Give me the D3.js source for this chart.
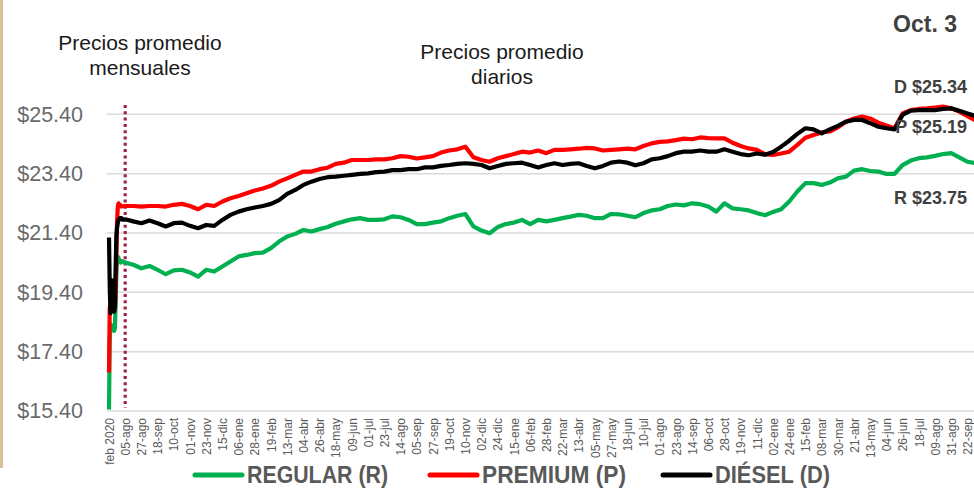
<!DOCTYPE html>
<html>
<head>
<meta charset="utf-8">
<script src="https://d3js.org/d3.v7.min.js"></script>
<style>
  body { margin: 0; background: #fff; }
  svg { display: block; }
</style>
</head>
<body>
<div id="chart"></div>
<script>
// monthly averages, feb 2020 - jul 2021
const monthKeys = ["2020-02","2020-03","2020-04","2020-05","2020-06","2020-07","2020-08","2020-09","2020-10",
  "2020-11","2020-12","2021-01","2021-02","2021-03","2021-04","2021-05","2021-06","2021-07"];
const regularMonthly = [15.45, 17.8, 18.3, 18.3, 18.2, 18.2, 18.15, 18.1, 18.2, 19.0, 20.1, 20.55, 20.6, 20.55, 20.5, 20.45, 20.4, 20.45];
const premiumMonthly = [16.7, 18.9, 18.9, 18.85, 18.8, 18.85, 18.8, 18.8, 18.85, 19.3, 20.6, 21.8, 22.3, 22.4, 22.35, 22.35, 22.3, 22.3];
const dieselMonthly  = [21.25, 19.6, 18.7, 19.3, 19.8, 19.3, 18.8, 18.75, 18.9, 20.2, 21.3, 21.6, 21.75, 21.85, 21.85, 21.9, 21.9, 21.9];

// daily averages
const dayKeys = ["2021-08-01","2021-08-05","2021-08-16","2021-08-27","2021-09-07","2021-09-18","2021-09-29","2021-10-10","2021-10-21",
  "2021-11-01","2021-11-12","2021-11-23","2021-12-04","2021-12-15","2021-12-26","2022-01-06","2022-01-17","2022-01-28",
  "2022-02-08","2022-02-19","2022-03-02","2022-03-13","2022-03-24","2022-04-04","2022-04-15","2022-04-26","2022-05-07",
  "2022-05-18","2022-05-29","2022-06-09","2022-06-20","2022-07-01","2022-07-12","2022-07-23","2022-08-03","2022-08-14",
  "2022-08-25","2022-09-05","2022-09-16","2022-09-27","2022-10-08","2022-10-19","2022-10-30","2022-11-10","2022-11-21",
  "2022-12-02","2022-12-13","2022-12-24","2023-01-04","2023-01-15","2023-01-26","2023-02-06","2023-02-17","2023-02-28",
  "2023-03-11","2023-03-22","2023-04-02","2023-04-13","2023-04-24","2023-05-05","2023-05-16","2023-05-27","2023-06-07",
  "2023-06-18","2023-06-29","2023-07-10","2023-07-21","2023-08-01","2023-08-12","2023-08-23","2023-09-03","2023-09-14",
  "2023-09-25","2023-10-06","2023-10-17","2023-10-28","2023-11-08","2023-11-19","2023-11-30","2023-12-11","2023-12-22",
  "2024-01-02","2024-01-13","2024-01-24","2024-02-04","2024-02-15","2024-02-26","2024-03-08","2024-03-19","2024-03-30",
  "2024-04-10","2024-04-21","2024-05-02","2024-05-13","2024-05-24","2024-06-04","2024-06-15","2024-06-26","2024-07-07",
  "2024-07-18","2024-07-29","2024-08-09","2024-08-20","2024-08-31","2024-09-11","2024-09-22","2024-10-03"];
const regularDaily = [20.45,
  20.40, 20.33, 20.21, 20.29, 20.16, 20.01, 20.14, 20.16, 20.07, 19.93, 20.16, 20.10, 20.27, 20.44, 20.61, 20.66,
  20.72, 20.74, 20.89, 21.11, 21.28, 21.37, 21.50, 21.45, 21.53, 21.60, 21.71, 21.79, 21.86, 21.90, 21.84, 21.84,
  21.86, 21.96, 21.93, 21.84, 21.70, 21.70, 21.75, 21.79, 21.90, 21.98, 22.04, 21.62, 21.48, 21.39, 21.60, 21.70,
  21.75, 21.84, 21.70, 21.84, 21.79, 21.84, 21.90, 21.95, 22.01, 21.98, 21.90, 21.90, 22.04, 22.03, 21.98, 21.93,
  22.07, 22.16, 22.20, 22.31, 22.36, 22.33, 22.40, 22.37, 22.29, 22.12, 22.40, 22.23, 22.20, 22.16, 22.07, 22.00,
  22.11, 22.20, 22.46, 22.80, 23.08, 23.08, 23.02, 23.10, 23.24, 23.30, 23.50, 23.55, 23.49, 23.47, 23.39, 23.39,
  23.69, 23.84, 23.92, 23.95, 24.00, 24.06, 24.09, 23.95, 23.80, 23.75];
const premiumDaily = [22.30,
  22.31, 22.31, 22.29, 22.31, 22.31, 22.29, 22.35, 22.38, 22.31, 22.20, 22.35, 22.31, 22.46, 22.57, 22.65, 22.74,
  22.83, 22.90, 22.99, 23.13, 23.24, 23.36, 23.47, 23.47, 23.55, 23.60, 23.73, 23.77, 23.86, 23.86, 23.86, 23.88,
  23.88, 23.92, 23.99, 23.97, 23.91, 23.95, 23.99, 24.11, 24.18, 24.22, 24.31, 23.95, 23.86, 23.80, 23.92, 23.99,
  24.06, 24.14, 24.11, 24.18, 24.09, 24.20, 24.20, 24.22, 24.24, 24.27, 24.25, 24.18, 24.20, 24.22, 24.24, 24.22,
  24.33, 24.42, 24.47, 24.49, 24.53, 24.58, 24.56, 24.62, 24.60, 24.59, 24.59, 24.44, 24.33, 24.25, 24.20, 24.06,
  24.03, 24.08, 24.14, 24.37, 24.61, 24.70, 24.79, 24.82, 24.96, 25.15, 25.26, 25.32, 25.26, 25.12, 25.02, 24.93,
  25.43, 25.54, 25.58, 25.60, 25.63, 25.66, 25.60, 25.49, 25.34, 25.19];
const dieselDaily = [21.85,
  21.86, 21.79, 21.73, 21.82, 21.73, 21.62, 21.73, 21.75, 21.64, 21.56, 21.67, 21.64, 21.84, 22.01, 22.12, 22.20,
  22.26, 22.31, 22.38, 22.51, 22.72, 22.85, 23.02, 23.13, 23.22, 23.28, 23.30, 23.33, 23.36, 23.39, 23.41, 23.45,
  23.47, 23.52, 23.52, 23.55, 23.55, 23.61, 23.61, 23.66, 23.69, 23.73, 23.75, 23.73, 23.69, 23.58, 23.66, 23.73,
  23.75, 23.77, 23.69, 23.61, 23.69, 23.75, 23.69, 23.73, 23.75, 23.66, 23.58, 23.66, 23.77, 23.81, 23.77, 23.68,
  23.75, 23.88, 23.92, 23.99, 24.09, 24.14, 24.14, 24.18, 24.14, 24.14, 24.22, 24.14, 24.06, 24.02, 24.08, 24.04,
  24.13, 24.31, 24.51, 24.74, 24.93, 24.89, 24.76, 24.89, 25.01, 25.15, 25.21, 25.21, 25.10, 24.98, 24.93, 24.89,
  25.38, 25.52, 25.54, 25.54, 25.54, 25.58, 25.60, 25.52, 25.43, 25.34];

const tickLabels = ["feb 2020","05-ago","27-ago","18-sep","10-oct","01-nov","23-nov","15-dic","06-ene","28-ene","19-feb",
  "13-mar","04-abr","26-abr","18-may","09-jun","01-jul","23-jul","14-ago","05-sep","27-sep","19-oct","10-nov","02-dic",
  "24-dic","15-ene","06-feb","28-feb","22-mar","13-abr","05-may","27-may","18-jun","10-jul","01-ago","23-ago","14-sep",
  "06-oct","28-oct","19-nov","11-dic","02-ene","24-ene","15-feb","08-mar","30-mar","21-abr","13-may","04-jun","26-jun",
  "18-jul","09-ago","31-ago","22-sep"];
const yTicks = [15.4, 17.4, 19.4, 21.4, 23.4, 25.4];

const seriesNames = ["REGULAR (R)", "PREMIUM (P)", "DIÉSEL (D)"];
const seriesLetters = ["R", "P", "D"];
const seriesColors = ["#00b050", "#ff0000", "#000000"];
const lastValues = [23.75, 25.19, 25.34];

const W = 974, H = 491;
const svg = d3.select("#chart").append("svg").attr("width", W).attr("height", H);

// one category per month, then one per day
const fmt = d3.timeFormat("%Y-%m-%d");
const days = d3.timeDay.range(new Date(2021, 7, 1), new Date(2024, 9, 4)).map(fmt);
const categories = monthKeys.concat(days);

const x = d3.scalePoint().domain(categories).range([109, 975.5]);
const y = d3.scaleLinear().domain([15.4, 25.4]).range([411, 114.3]);

// left border
svg.append("line").attr("x1", 1.5).attr("x2", 1.5).attr("y1", 0).attr("y2", 468)
  .attr("stroke", "#d6c29a").attr("stroke-width", 3);

// grid
svg.append("g").selectAll("line").data(yTicks).join("line")
  .attr("x1", 107).attr("x2", W)
  .attr("y1", d => y(d)).attr("y2", d => y(d))
  .attr("stroke", "#dadada").attr("stroke-width", 1.5);

// y axis
const yAxis = svg.append("g").attr("transform", "translate(86,0)")
  .call(d3.axisLeft(y).tickValues(yTicks).tickSize(0).tickPadding(3).tickFormat(d => "$" + d.toFixed(2)));
yAxis.select(".domain").remove();
yAxis.selectAll("text").attr("font-family", "Liberation Sans, Arial, sans-serif")
  .attr("font-size", 21.5).attr("fill", "#6a6a6a");

// x axis
const tickKeys = [monthKeys[0]].concat(dayKeys.filter((d, i) => i % 2 === 1));
const xAxis = svg.append("g").attr("transform", "translate(0,411)")
  .call(d3.axisBottom(x).tickValues(tickKeys).tickSize(0).tickFormat((d, i) => tickLabels[i]));
xAxis.select(".domain").remove();
xAxis.selectAll("text")
  .attr("transform", "rotate(-90)")
  .attr("text-anchor", "end")
  .attr("x", -7).attr("y", 0).attr("dy", "0.35em")
  .attr("font-family", "Liberation Sans, Arial, sans-serif")
  .attr("font-size", 12).attr("fill", "#5a5a5a");

// monthly / daily divider
svg.append("line")
  .attr("x1", x("2021-08-05")).attr("x2", x("2021-08-05"))
  .attr("y1", 105).attr("y2", 408)
  .attr("stroke", "#9e2349").attr("stroke-width", 3.2).attr("stroke-dasharray", "3,3.3");

// lines
const seriesValues = [
  regularMonthly.concat(regularDaily),
  premiumMonthly.concat(premiumDaily),
  dieselMonthly.concat(dieselDaily)
];
const keys = monthKeys.concat(dayKeys);
const line = d3.line().x((d, i) => x(keys[i])).y(d => y(d));
svg.append("g").selectAll("path").data(seriesValues).join("path")
  .attr("d", d => line(d))
  .attr("fill", "none")
  .attr("stroke", (d, i) => seriesColors[i])
  .attr("stroke-width", 4.2)
  .attr("stroke-linejoin", "round");

// titles
const titleFont = "Liberation Sans, Arial, sans-serif";
svg.append("text").attr("x", 140).attr("y", 50).attr("text-anchor", "middle")
  .attr("font-family", titleFont).attr("font-size", 21).attr("fill", "#1a1a1a").text("Precios promedio");
svg.append("text").attr("x", 140).attr("y", 75).attr("text-anchor", "middle")
  .attr("font-family", titleFont).attr("font-size", 21).attr("fill", "#1a1a1a").text("mensuales");
svg.append("text").attr("x", 502).attr("y", 59).attr("text-anchor", "middle")
  .attr("font-family", titleFont).attr("font-size", 21).attr("fill", "#1a1a1a").text("Precios promedio");
svg.append("text").attr("x", 502).attr("y", 84).attr("text-anchor", "middle")
  .attr("font-family", titleFont).attr("font-size", 21).attr("fill", "#1a1a1a").text("diarios");

svg.append("text").attr("x", 957).attr("y", 32).attr("text-anchor", "end")
  .attr("font-family", titleFont).attr("font-weight", "bold").attr("font-size", 23)
  .attr("fill", "#404040").text("Oct. 3");

// end-of-line labels (R, P, D)
const endY = [204, 133, 93];
svg.append("g").selectAll("text").data(lastValues).join("text")
  .attr("x", 967).attr("y", (d, i) => endY[i]).attr("text-anchor", "end")
  .attr("font-family", titleFont).attr("font-weight", "bold").attr("font-size", 18)
  .attr("fill", "#404040")
  .text((d, i) => seriesLetters[i] + " $" + d.toFixed(2));

// legend
const legendX = [195, 430, 663];
const legendW = [141, 144, 115];
const lg = svg.append("g").selectAll("g").data(seriesNames).join("g")
  .attr("transform", (d, i) => `translate(${legendX[i]},475)`);
lg.append("line").attr("x1", 0).attr("x2", 47).attr("y1", 0).attr("y2", 0)
  .attr("stroke", (d, i) => seriesColors[i]).attr("stroke-width", 5).attr("stroke-linecap", "round");
lg.append("text").attr("x", 52).attr("y", 8)
  .attr("font-family", titleFont)
  .attr("font-weight", "bold").attr("font-size", 23).attr("fill", "#595959")
  .attr("textLength", (d, i) => legendW[i]).attr("lengthAdjust", "spacingAndGlyphs")
  .text(d => d);
</script>
</body>
</html>
